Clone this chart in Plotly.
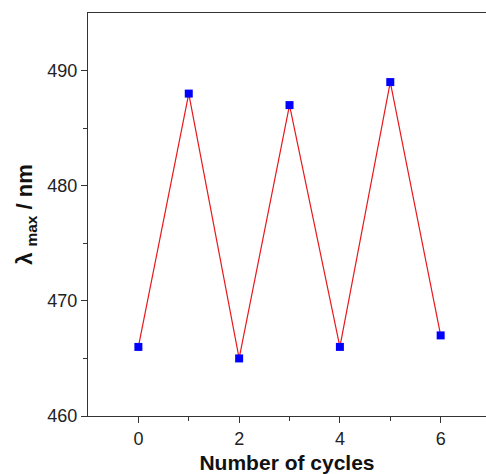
import plotly.graph_objects as go

cycles = [0, 1, 2, 3, 4, 5, 6]
lambda_max = [466, 488, 465, 487, 466, 489, 467]
x_ticks = [0, 2, 4, 6]
x_minor = [1, 3, 5]
y_ticks = [460, 470, 480, 490]
y_minor = [465, 475, 485]

fig = go.Figure()
fig.add_trace(go.Scatter(
    x=cycles, y=lambda_max, mode="lines+markers",
    line=dict(color="#e8191e", width=1.2),
    marker=dict(symbol="square", size=8, color="#0000ff"),
    showlegend=False,
))

FAM = "Liberation Sans, Arial, sans-serif"
tick_font = dict(family=FAM, size=18, color="#222")
fig.update_layout(
    width=486, height=474,
    margin=dict(l=88, r=0, t=13, b=58),
    paper_bgcolor="white", plot_bgcolor="white",
    font=tick_font,
    xaxis=dict(
        range=[-1, 6.9], tickvals=x_ticks, ticks="outside", ticklen=6, tickwidth=1,
        tickcolor="#333", showline=True, linecolor="#333", linewidth=1.2, mirror=True,
        showgrid=False, zeroline=False, tickfont=tick_font, automargin=False,
        minor=dict(tickvals=x_minor, ticks="outside", ticklen=4, tickcolor="#333", showgrid=False),
        title=dict(text="<b>Number of cycles</b>", font=dict(family=FAM, size=21, color="#111"), standoff=7),
    ),
    yaxis=dict(
        range=[460, 495], tickvals=y_ticks, ticks="outside", ticklen=6, tickwidth=1,
        tickcolor="#333", showline=True, linecolor="#333", linewidth=1.2, mirror=False,
        showgrid=False, zeroline=False, tickfont=tick_font, automargin=False,
        minor=dict(tickvals=y_minor, ticks="outside", ticklen=4, tickcolor="#333", showgrid=False),
        title=dict(text="<b>λ <sub>max</sub> / nm</b>", font=dict(family=FAM, size=22, color="#111"), standoff=8),
    ),
)

fig.write_html("out.html", config={"displayModeBar": False},
               post_script="document.body.style.margin='0';document.body.style.overflow='hidden';")
